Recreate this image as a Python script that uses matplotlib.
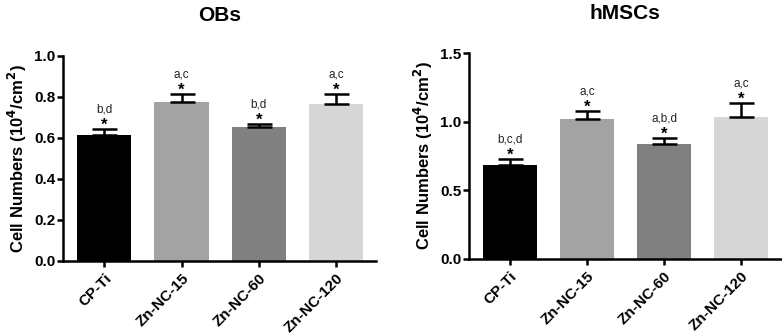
import matplotlib
matplotlib.use("Agg")
import matplotlib.pyplot as plt

plt.rcParams['font.family'] = ['Liberation Sans', 'DejaVu Sans']

groups = ["CP-Ti", "Zn-NC-15", "Zn-NC-60", "Zn-NC-120"]
colors = ["#000000", "#a3a3a3", "#808080", "#d6d6d6"]

obs_mean = [0.615, 0.777, 0.651, 0.767]
obs_err = [0.028, 0.037, 0.018, 0.047]
obs_marks = ["b,d", "a,c", "b,d", "a,c"]

msc_mean = [0.687, 1.018, 0.838, 1.037]
msc_err = [0.041, 0.061, 0.043, 0.098]
msc_marks = ["b,c,d", "a,c", "a,b,d", "a,c"]


def panel(ax, means, errs, marks, title, ymax, step):
    x = range(len(groups))
    ax.bar(x, means, width=0.7, color=colors, zorder=2)
    ax.errorbar(x, means, yerr=[[0] * len(means), errs], fmt="none",
                ecolor="black", elinewidth=1.8, capsize=9, capthick=1.8, zorder=3)
    for i in x:
        top = means[i] + errs[i]
        ax.annotate("*", (i, top), xytext=(0, -0.5), textcoords="offset points",
                    ha="center", va="baseline", fontsize=12, fontweight="bold")
        ax.annotate(marks[i], (i, top), xytext=(0, 12), textcoords="offset points",
                    ha="center", va="baseline", fontsize=8.5, color="#222222")
    ax.set_xlim(-0.53, len(groups) - 1 + 0.52)
    ax.set_ylim(0, ymax)
    yt = [round(step * k, 2) for k in range(int(round(ymax / step)) + 1)]
    ax.set_yticks(yt)
    ax.set_yticklabels(["%.1f" % v for v in yt], fontsize=11, fontweight="bold")
    ax.set_xticks(list(x))
    ax.set_xticklabels(groups, rotation=45, ha="right", rotation_mode="anchor",
                       fontsize=11, fontweight="bold")
    ax.spines["top"].set_visible(False)
    ax.spines["right"].set_visible(False)
    ax.spines["left"].set_linewidth(1.8)
    ax.spines["bottom"].set_linewidth(1.8)
    ax.tick_params(width=1.8, length=4)
    ax.tick_params(axis="y", pad=1.5)
    ax.set_ylabel("Cell Numbers (10$^{\\mathbf{4}}$/cm$^{\\mathbf{2}}$)",
                  fontsize=12, fontweight="bold", labelpad=4)
    ax.set_title(title, fontsize=15, fontweight="bold", pad=25)


fig = plt.figure(figsize=(7.82, 3.35), dpi=100)
ax1 = fig.add_axes([0.081, 0.221, 0.400, 0.612])
ax2 = fig.add_axes([0.600, 0.228, 0.399, 0.613])
panel(ax1, obs_mean, obs_err, obs_marks, "OBs", 1.0, 0.2)
panel(ax2, msc_mean, msc_err, msc_marks, "hMSCs", 1.5, 0.5)
fig.savefig("out.png", dpi=100)
